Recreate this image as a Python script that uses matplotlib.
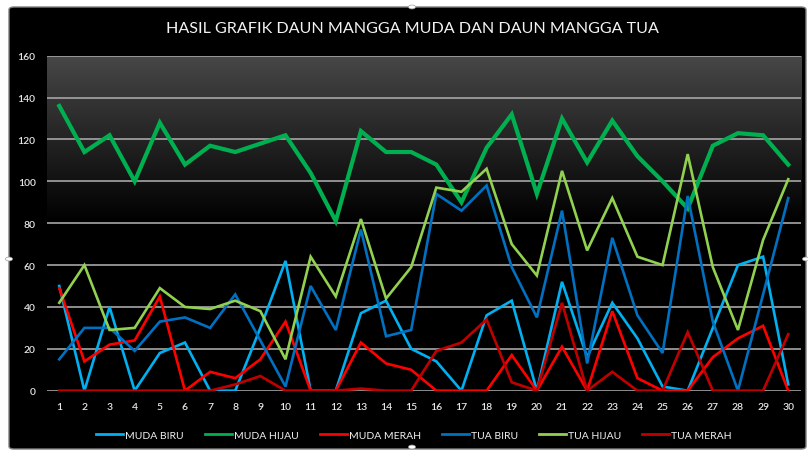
import matplotlib.pyplot as plt
import matplotlib.patches as mpatches
import numpy as np

# data
hari = list(range(1, 31))
muda_biru = [50, 0, 40, 0, 18, 23, 0, 0, 30, 62, 0, 0, 37, 43, 20, 14, 0, 36, 43, 0,
             52, 16, 42, 25, 2, 0, 30, 60, 64, 3]
muda_hijau = [136, 114, 122, 100, 128, 108, 117, 114, 118, 122, 104, 81, 124, 114, 114, 108, 90, 116, 132, 94,
              130, 109, 129, 112, 100, 87, 117, 123, 122, 108]
muda_merah = [49, 14, 22, 24, 45, 0, 9, 6, 15, 33, 0, 0, 23, 13, 10, 0, 0, 0, 17, 0,
              21, 0, 38, 6, 0, 0, 16, 25, 31, 0]
tua_biru = [15, 30, 30, 19, 33, 35, 30, 46, 24, 2, 50, 29, 77, 26, 29, 94, 86, 98, 59, 35,
            86, 13, 73, 36, 18, 93, 33, 0, 46, 92]
tua_hijau = [42, 60, 29, 30, 49, 40, 39, 43, 38, 15, 64, 45, 82, 44, 59, 97, 95, 106, 70, 55,
             105, 67, 92, 64, 60, 113, 59, 29, 72, 101]
tua_merah = [0, 0, 0, 0, 0, 0, 0, 3, 7, 0, 0, 0, 1, 0, 0, 19, 23, 34, 4, 0,
             42, 0, 9, 0, 0, 28, 0, 0, 0, 27]

series = [
    ("MUDA BIRU", muda_biru, "#00B0F0", 1.9),
    ("MUDA HIJAU", muda_hijau, "#00B050", 3.0),
    ("MUDA MERAH", muda_merah, "#FF0000", 1.9),
    ("TUA BIRU", tua_biru, "#0070C0", 1.9),
    ("TUA HIJAU", tua_hijau, "#92D050", 1.9),
    ("TUA MERAH", tua_merah, "#C00000", 1.9),
]

plt.rcParams['font.family'] = ['Lato', 'DejaVu Sans']

fig = plt.figure(figsize=(8.08, 4.52), dpi=100)
fig.patch.set_facecolor("white")

W, H = 808, 452

# chart frame (black, like the Excel chart area)
frame = mpatches.FancyBboxPatch((9 / W, 2 / H), 797 / W, 442 / H,
                                boxstyle="round,pad=0,rounding_size=0.006",
                                transform=fig.transFigure, facecolor="black",
                                edgecolor="#7f7f7f", linewidth=1.0, zorder=-10)
fig.patches.append(frame)

ax = fig.add_axes([46.7 / W, (H - 391.7) / H, 754.1 / W, 335 / H])
ax.set_facecolor("black")
ax.set_xlim(0.5, 30.5)
ax.set_ylim(0, 160)

# dark grey gradient at top of plot area
grad = np.linspace(0, 1, 200).reshape(-1, 1)
vals = grad * 0.28
ax.imshow(np.dstack([vals, vals, vals]), extent=(0.5, 30.5, 80, 160), origin="lower",
          aspect="auto", zorder=0, interpolation="bilinear")

for v in range(0, 161, 20):
    ax.axhline(v, color="#a6a6a6", linewidth=1.2, zorder=1)

for nama, nilai, warna, lw in series:
    ax.plot(hari, nilai, color=warna, linewidth=lw, label=nama, zorder=3,
            solid_joinstyle="miter")

ax.set_xticks(hari)
ax.set_yticks(range(0, 161, 20))
ax.tick_params(length=0, colors="#e6e6e6", labelsize=7.5)
ax.tick_params(axis="x", pad=8)
ax.tick_params(axis="y", pad=8)
for lbl in ax.get_xticklabels() + ax.get_yticklabels():
    lbl.set_fontweight("semibold")
for s in ax.spines.values():
    s.set_visible(False)

fig.text(412 / W, 1 - 29 / H, "HASIL GRAFIK DAUN MANGGA MUDA DAN DAUN MANGGA TUA",
         ha="center", va="center", color="#f2f2f2", fontsize=11.6)

leg = fig.legend(loc="center", bbox_to_anchor=(414 / W, 1 - 436 / H), ncol=6,
                 frameon=False, fontsize=7.5, handlelength=2.6, handletextpad=0.2,
                 columnspacing=2.0, labelcolor="#f2f2f2")
for h in leg.legend_handles:
    h.set_linewidth(2)

# selection handles on the frame
for hx, hy in [(412, 8), (9, 260), (806, 260), (412, 448)]:
    fig.patches.append(mpatches.Circle((hx / W, 1 - hy / H), 3.5 / W,
                                       transform=fig.transFigure, facecolor="white",
                                       edgecolor="#999999", linewidth=0.5, zorder=5))

fig.savefig("out.png", dpi=100, facecolor="white")
